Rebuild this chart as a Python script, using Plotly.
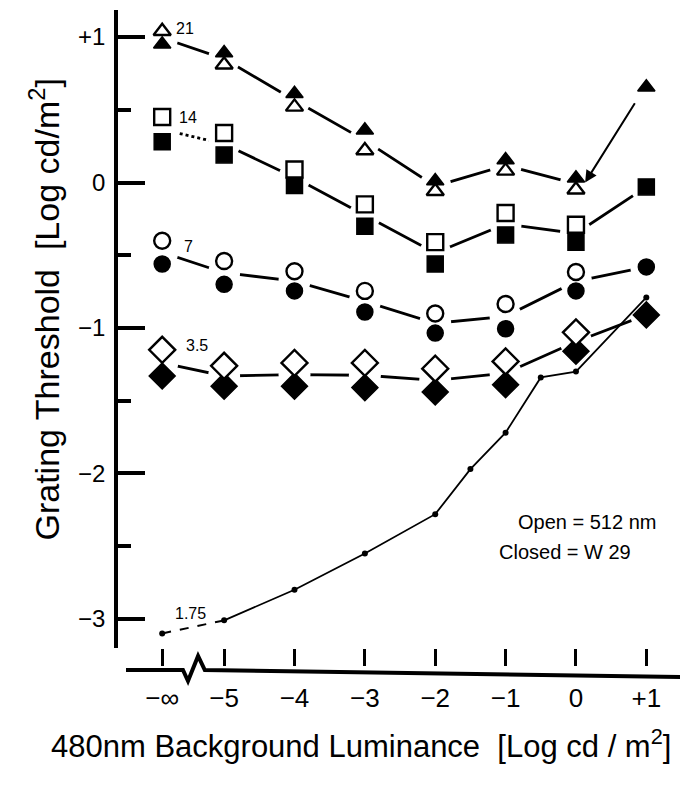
import plotly.graph_objects as go

# ---------------- data ----------------
x_main = [-5.88, -5, -4, -3, -2, -1, 0]          # -5.88 is where "-inf" is drawn
x_plus = 1
x_tick_vals = [-5.88, -5, -4, -3, -2, -1, 0, 1]
x_tick_text = ["−∞", "−5", "−4", "−3", "−2", "−1", "0", "+1"]
y_tick_vals = [-3, -2, -1, 0, 1]
y_tick_text = ["−3", "−2", "−1", "0", "+1"]

c21_open = [1.04, 0.81, 0.52, 0.22, -0.06, 0.08, -0.05]
c21_closed = [0.95, 0.89, 0.61, 0.36, 0.01, 0.155, 0.03]
c21_closed_plus = 0.655

c14_open = [0.45, 0.34, 0.09, -0.15, -0.41, -0.21, -0.29]
c14_closed = [0.28, 0.19, -0.02, -0.30, -0.56, -0.36, -0.41]
c14_closed_plus = -0.03

c7_open = [-0.40, -0.54, -0.61, -0.745, -0.90, -0.835, -0.615]
c7_closed = [-0.56, -0.70, -0.745, -0.89, -1.035, -1.005, -0.745]
c7_closed_plus = -0.58

c35_open = [-1.15, -1.26, -1.24, -1.24, -1.28, -1.23, -1.03]
c35_closed = [-1.33, -1.40, -1.40, -1.41, -1.44, -1.39, -1.16]
c35_closed_plus = -0.91

x175 = [-5.88, -5, -4, -3, -2, -1.5, -1, -0.5, 0, 1]
c175 = [-3.10, -3.01, -2.80, -2.55, -2.28, -1.97, -1.72, -1.34, -1.30, -0.79]

FONT = "Liberation Sans"
BLACK = "black"

fig = go.Figure()

def mid(a, b):
    return [(p + q) / 2 for p, q in zip(a, b)]

series = [
    ("21", c21_open, c21_closed, c21_closed_plus, "triangle-up", 15, False),
    ("14", c14_open, c14_closed, c14_closed_plus, "square", 16, True),
    ("7", c7_open, c7_closed, c7_closed_plus, "circle", 16, True),
    ("3.5", c35_open, c35_closed, c35_closed_plus, "diamond", 20, True),
]

halo_x, halo_y = [], []
for name, op, cl, clp, sym, size, join_plus in series:
    ly = mid(op, cl)
    lx = list(x_main)
    if join_plus:
        lx = lx + [x_plus]
        ly = ly + [clp]
    if name == "14":
        fig.add_trace(go.Scatter(x=lx[:2], y=ly[:2], mode="lines",
                                 line=dict(color=BLACK, width=2.8, dash="dot"),
                                 hoverinfo="skip"))
        fig.add_trace(go.Scatter(x=lx[1:], y=ly[1:], mode="lines",
                                 line=dict(color=BLACK, width=2.8),
                                 hoverinfo="skip"))
    else:
        fig.add_trace(go.Scatter(x=lx, y=ly, mode="lines",
                                 line=dict(color=BLACK, width=2.8),
                                 hoverinfo="skip"))
    halo_x += lx
    halo_y += ly

# white halos to leave gaps between the lines and the symbols
fig.add_trace(go.Scatter(x=halo_x, y=halo_y, mode="markers",
                         marker=dict(symbol="circle", size=32, color="white",
                                     line=dict(width=0)),
                         hoverinfo="skip"))

# 1.75 curve
fig.add_trace(go.Scatter(x=x175[:2], y=c175[:2], mode="lines",
                         line=dict(color=BLACK, width=2, dash="dash"),
                         hoverinfo="skip"))
fig.add_trace(go.Scatter(x=x175[1:], y=c175[1:], mode="lines",
                         line=dict(color=BLACK, width=1.8),
                         hoverinfo="skip"))
fig.add_trace(go.Scatter(x=x175, y=c175, mode="markers",
                         marker=dict(symbol="circle", size=6, color=BLACK),
                         hoverinfo="skip"))

# symbols
for name, op, cl, clp, sym, size, join_plus in series:
    fig.add_trace(go.Scatter(x=x_main + [x_plus], y=cl + [clp], mode="markers",
                             marker=dict(symbol=sym, size=size, color=BLACK,
                                         line=dict(color=BLACK, width=1.5)),
                             hoverinfo="skip"))
    fig.add_trace(go.Scatter(x=x_main, y=op, mode="markers",
                             marker=dict(symbol=sym, size=size, color="white",
                                         line=dict(color=BLACK, width=2.4)),
                             hoverinfo="skip"))

# series labels
labels = [("21", -5.55, 1.06), ("14", -5.52, 0.45), ("7", -5.51, -0.44),
          ("3.5", -5.38, -1.12), ("1.75", -5.48, -2.96)]
annotations = []
for t, lx, ly in labels:
    annotations.append(dict(x=lx, y=ly, xref="x", yref="y", text=t, showarrow=False,
                            font=dict(family=FONT, size=16, color=BLACK)))

# arrow from the +1 triangle to the 0 triangle
annotations.append(dict(x=x_main[-1] + 0.13, y=c21_open[-1] + 0.05, xref="x", yref="y",
                        ax=x_plus - 0.15, ay=c21_closed_plus - 0.1, axref="x", ayref="y",
                        text="", showarrow=True, arrowhead=2, arrowsize=1.2,
                        arrowwidth=2, arrowcolor=BLACK))

annotations += [
    dict(x=0.838, y=0.197, xref="paper", yref="paper", text="Open = 512 nm",
         xanchor="center", yanchor="middle",
         showarrow=False, font=dict(family=FONT, size=20, color=BLACK)),
    dict(x=0.798, y=0.150, xref="paper", yref="paper", text="Closed = W 29",
         xanchor="center", yanchor="middle",
         showarrow=False, font=dict(family=FONT, size=20, color=BLACK)),
    dict(x=0.434, y=-0.150, xref="paper", yref="paper",
         text="480nm Background Luminance  [Log cd / m<sup>2</sup>]",
         xanchor="center", yanchor="middle",
         showarrow=False, font=dict(family=FONT, size=31, color=BLACK)),
    dict(x=-0.131, y=0.53, xref="paper", yref="paper", textangle=-90,
         text="Grating Threshold  [Log cd/m<sup>2</sup>]",
         xanchor="center", yanchor="middle",
         showarrow=False, font=dict(family=FONT, size=34, color=BLACK)),
]

# x axis baseline with the break symbol
path = ("M 0.0143,-0.0345 L 0.116,-0.0345 L 0.125,-0.0517 L 0.143,-0.0125 "
        "L 0.155,-0.0345 L 1.004,-0.0455")
shapes = [dict(type="path", xref="paper", yref="paper", path=path,
               line=dict(color=BLACK, width=4))]

fig.update_layout(
    width=680, height=785, autosize=False,
    margin=dict(l=118, r=2, t=10, b=137),
    plot_bgcolor="white", paper_bgcolor="white",
    showlegend=False,
    annotations=annotations, shapes=shapes,
    xaxis=dict(range=[-6.508, 1.45], tickvals=x_tick_vals, ticktext=x_tick_text,
               ticks="outside", ticklen=17, tickwidth=2.5, tickcolor=BLACK,
               showline=False, showgrid=False, zeroline=False,
               tickfont=dict(family=FONT, size=26, color=BLACK),
               ticklabelstandoff=10),
    yaxis=dict(range=[-3.2, 1.186], tickvals=y_tick_vals, ticktext=y_tick_text,
               ticks="inside", ticklen=27, tickwidth=3.5, tickcolor=BLACK,
               showline=True, linewidth=3.5, linecolor=BLACK,
               showgrid=False, zeroline=False,
               minor=dict(dtick=0.5, tick0=0.5, ticks="inside", ticklen=13,
                          tickwidth=3.5, tickcolor=BLACK, showgrid=False),
               tickfont=dict(family=FONT, size=24, color=BLACK),
               ticklabelstandoff=4),
)

fig.write_html("out.html", config={"displayModeBar": False},
               post_script="document.body.style.margin='0';document.body.style.padding='0';")
